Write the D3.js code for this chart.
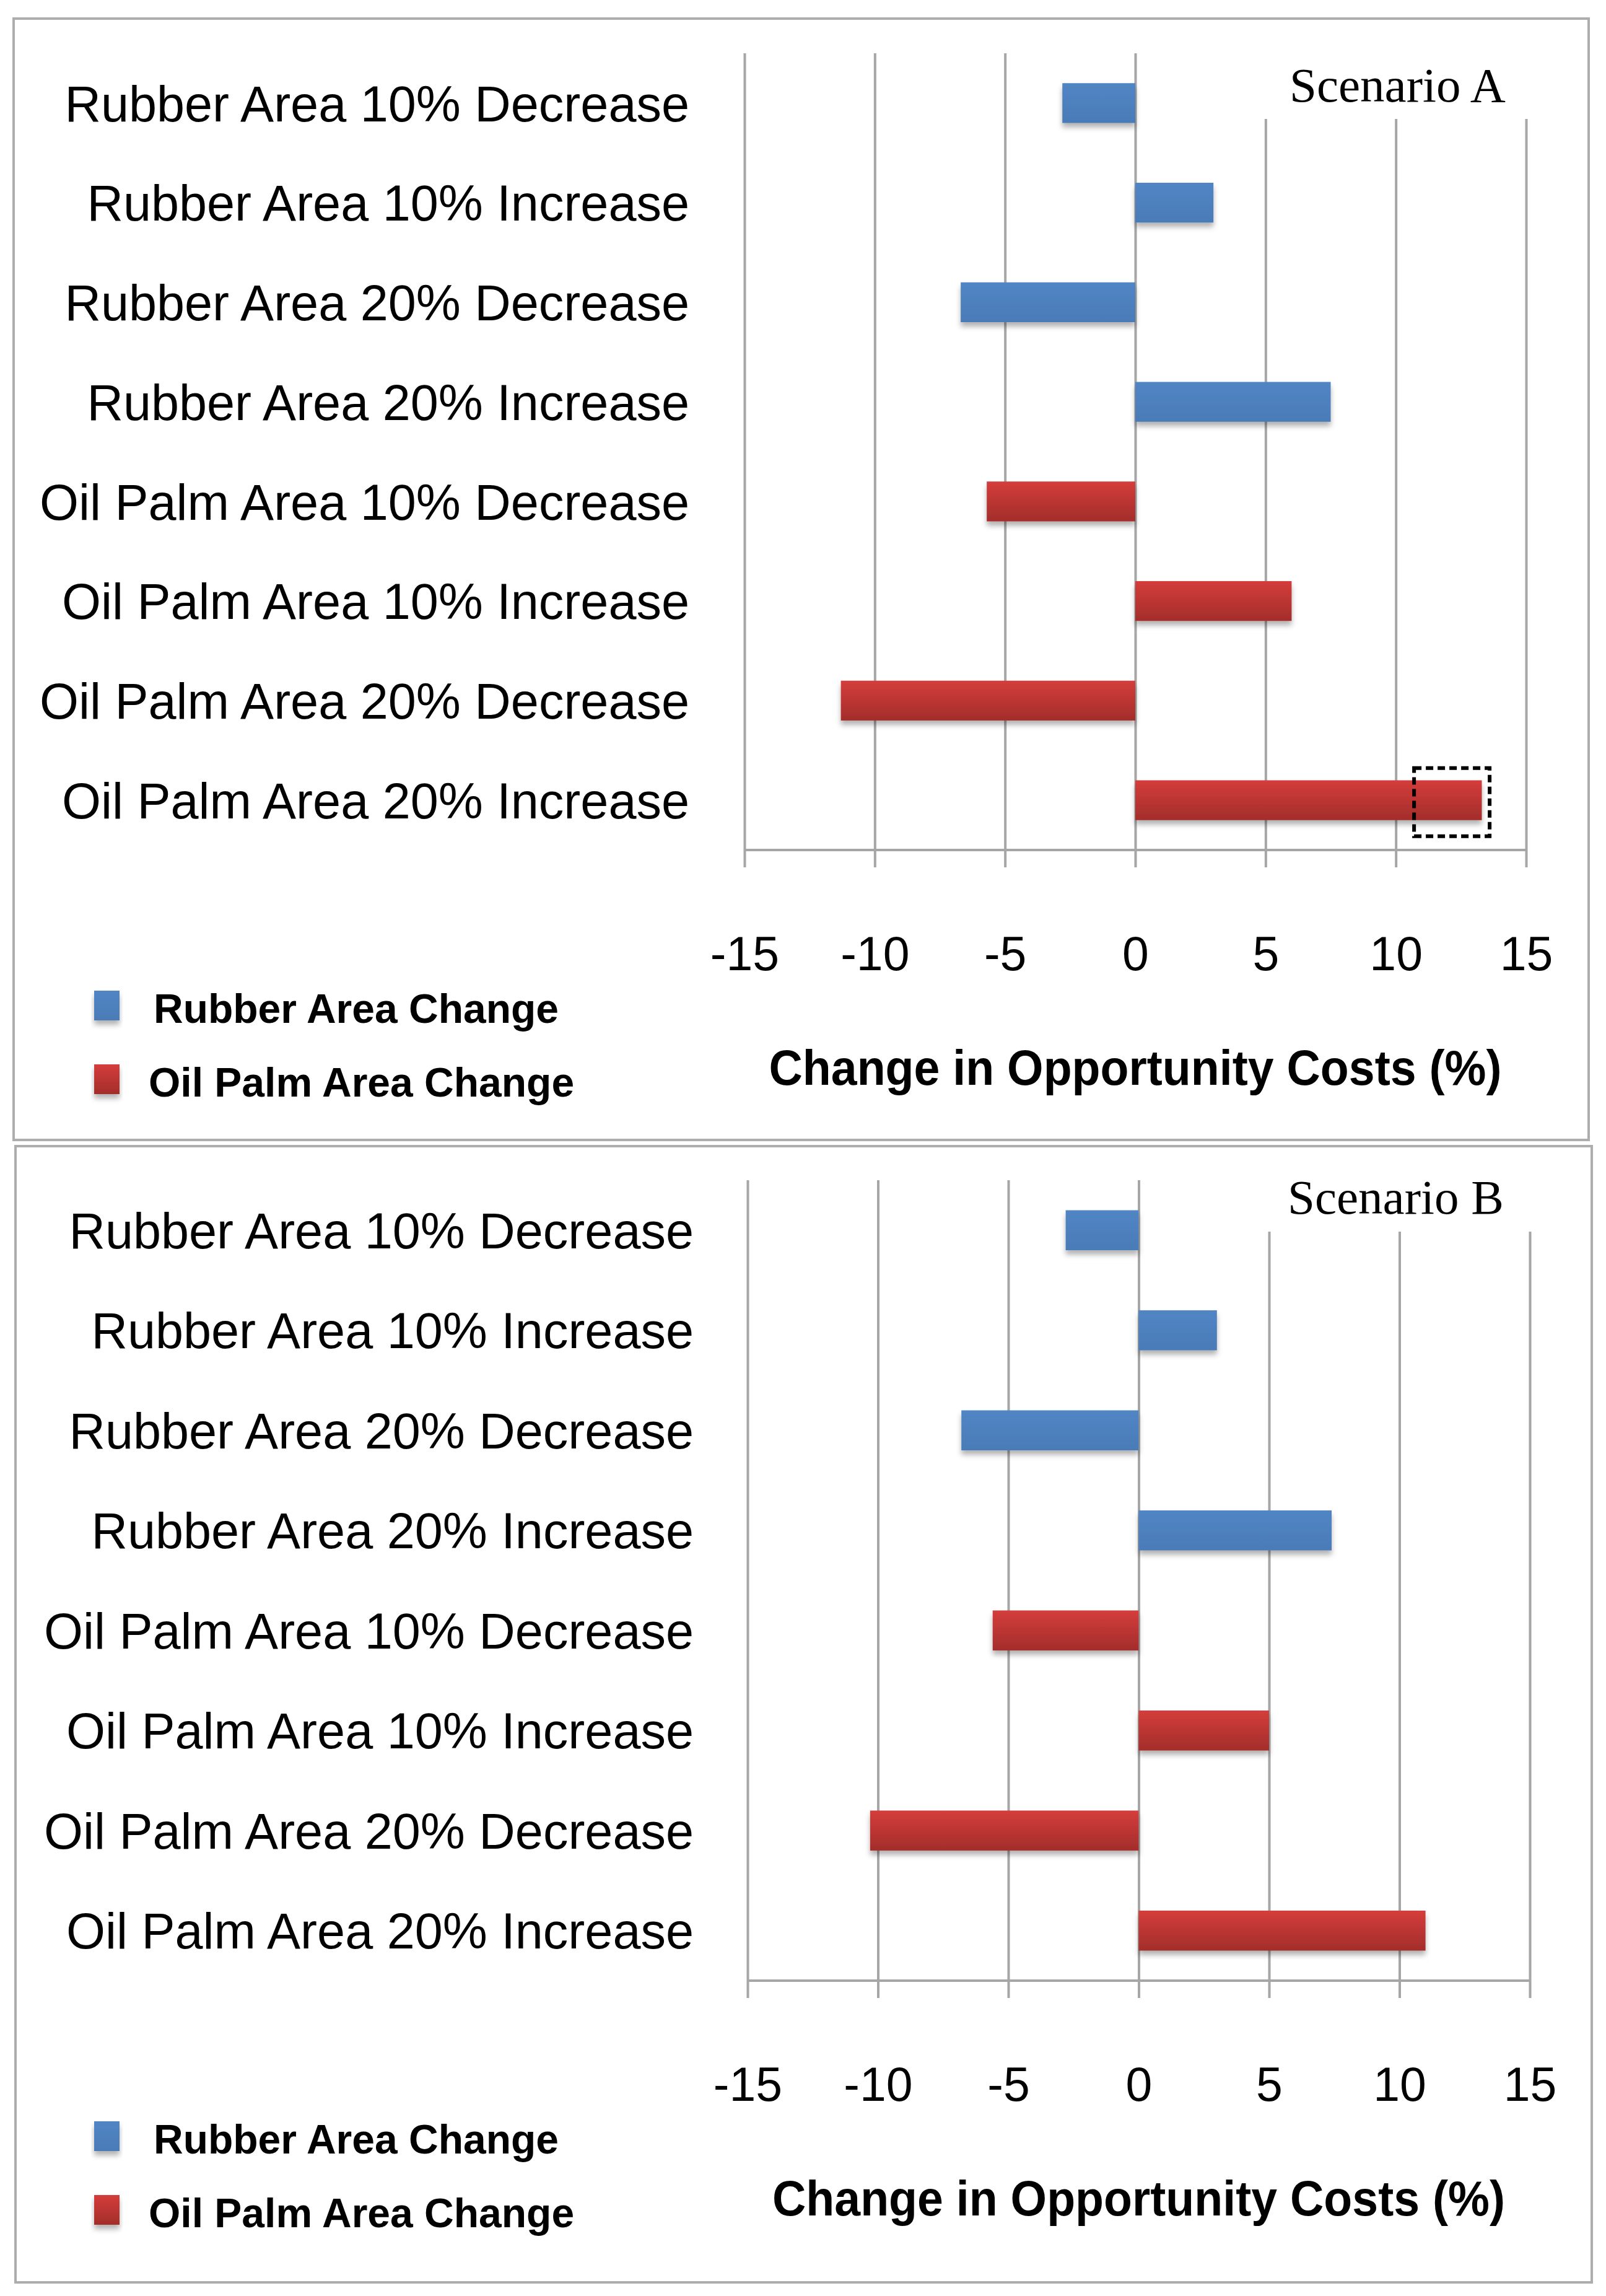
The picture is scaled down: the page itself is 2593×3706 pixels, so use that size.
<!DOCTYPE html>
<html>
<head>
<meta charset="utf-8">
<script src="https://cdn.jsdelivr.net/npm/d3@7"></script>
<style>
  body { margin: 0; background: #fff; }
  svg { display: block; }
</style>
</head>
<body>
<svg id="chart"></svg>
<script>
// categories (top to bottom)
const categories = [
  'Rubber Area 10% Decrease',
  'Rubber Area 10% Increase',
  'Rubber Area 20% Decrease',
  'Rubber Area 20% Increase',
  'Oil Palm Area 10% Decrease',
  'Oil Palm Area 10% Increase',
  'Oil Palm Area 20% Decrease',
  'Oil Palm Area 20% Increase'
];
// which series each bar belongs to
const seriesOf = ['rubber', 'rubber', 'rubber', 'rubber', 'oil', 'oil', 'oil', 'oil'];
const seriesNames = ['Rubber Area Change', 'Oil Palm Area Change'];

// change in opportunity costs (%)
const scenarioA = [-2.8, 3.0, -6.7, 7.5, -5.7, 6.0, -11.3, 13.3];
const scenarioB = [-2.8, 3.0, -6.8, 7.4, -5.6, 5.0, -10.3, 11.0];

const tickValues = [-15, -10, -5, 0, 5, 10, 15];
const axisTitle = 'Change in Opportunity Costs (%)';

const W = 2593, H = 3706;
const svg = d3.select('#chart').attr('width', W).attr('height', H);

const defs = svg.append('defs');
const shadow = defs.append('filter').attr('id', 'shadow')
  .attr('x', '-10%').attr('y', '-30%').attr('width', '120%').attr('height', '180%');
shadow.append('feDropShadow')
  .attr('dx', 0).attr('dy', 7).attr('stdDeviation', 4)
  .attr('flood-color', '#000').attr('flood-opacity', 0.3);

const redGrad = defs.append('linearGradient').attr('id', 'redGrad')
  .attr('x1', 0).attr('y1', 0).attr('x2', 0).attr('y2', 1);
redGrad.append('stop').attr('offset', '0%').attr('stop-color', '#d43d3b');
redGrad.append('stop').attr('offset', '100%').attr('stop-color', '#a32d2b');

const blueGrad = defs.append('linearGradient').attr('id', 'blueGrad')
  .attr('x1', 0).attr('y1', 0).attr('x2', 0).attr('y2', 1);
blueGrad.append('stop').attr('offset', '0%').attr('stop-color', '#5185c4');
blueGrad.append('stop').attr('offset', '100%').attr('stop-color', '#4a7bb7');

const fills = { rubber: 'url(#blueGrad)', oil: 'url(#redGrad)' };

const sans = '"Liberation Sans", Arial, sans-serif';
const serif = '"Liberation Serif", "Times New Roman", serif';

function drawPanel(p, values, title) {
  const g = svg.append('g');

  // panel frame
  g.append('rect')
    .attr('x', p.bx).attr('y', p.by).attr('width', p.bw).attr('height', p.bh)
    .attr('fill', '#fff').attr('stroke', '#adadad').attr('stroke-width', 4);

  const x = d3.scaleLinear().domain([-15, 15]).range([p.x0, p.x1]);
  const y = d3.scaleBand().domain(categories).range([p.top, p.bottom])
    .paddingInner(0.6).paddingOuter(0.3);

  // gridlines (also extend below the axis as ticks)
  const grid = g.append('g')
    .attr('transform', `translate(0, ${p.bottom + 28})`)
    .call(d3.axisTop(x).tickValues(tickValues).tickSize(p.bottom + 28 - p.top).tickFormat(''));
  grid.select('.domain').remove();
  grid.selectAll('line').attr('stroke', '#a6a6a6').attr('stroke-width', 4);

  // x axis line
  g.append('line')
    .attr('x1', x(-15)).attr('x2', x(15))
    .attr('y1', p.bottom).attr('y2', p.bottom)
    .attr('stroke', '#a6a6a6').attr('stroke-width', 4);

  // tick labels
  const labels = g.append('g')
    .attr('transform', `translate(0, ${p.bottom})`)
    .call(d3.axisBottom(x).tickValues(tickValues).tickSize(0).tickPadding(139).tickFormat(d => String(d)));
  labels.select('.domain').remove();
  labels.selectAll('text')
    .attr('font-family', sans).attr('font-size', 77).attr('fill', '#000');

  // white box behind the scenario label
  g.append('rect')
    .attr('x', x(2.8)).attr('y', p.top - 8)
    .attr('width', x(15) - x(2.8) + 30).attr('height', p.boxBottom - p.top + 8)
    .attr('fill', '#fff');
  g.append('text')
    .attr('x', p.titleX).attr('y', p.titleY)
    .attr('font-family', serif).attr('font-size', 79).attr('fill', '#000')
    .text(title);

  // bars
  g.selectAll('.bar')
    .data(values.map((v, i) => ({ v, cat: categories[i], s: seriesOf[i] })))
    .enter()
    .append('rect')
    .attr('class', 'bar')
    .attr('x', d => x(Math.min(0, d.v)))
    .attr('y', d => y(d.cat))
    .attr('width', d => Math.abs(x(d.v) - x(0)))
    .attr('height', y.bandwidth())
    .attr('fill', d => fills[d.s])
    .attr('filter', 'url(#shadow)');

  // category labels
  g.selectAll('.cat')
    .data(categories)
    .enter()
    .append('text')
    .attr('class', 'cat')
    .attr('x', p.labelX)
    .attr('y', d => y(d) + y.bandwidth() / 2)
    .attr('dy', '0.36em')
    .attr('text-anchor', 'end')
    .attr('font-family', sans).attr('font-size', 81).attr('fill', '#000')
    .text(d => d);

  // axis title
  g.append('text')
    .attr('x', (p.x0 + p.x1) / 2).attr('y', p.bottom + 379)
    .attr('text-anchor', 'middle')
    .attr('font-family', sans).attr('font-size', 79).attr('font-weight', 'bold')
    .attr('textLength', 1183).attr('lengthAdjust', 'spacingAndGlyphs')
    .text(axisTitle);

  // legend
  const leg = g.selectAll('.leg')
    .data(seriesNames)
    .enter()
    .append('g')
    .attr('class', 'leg')
    .attr('transform', (d, i) => `translate(0, ${p.bottom + 251 + i * 119})`);
  leg.append('rect')
    .attr('x', 152).attr('y', -24).attr('width', 41).attr('height', 48)
    .attr('fill', (d, i) => i === 0 ? fills.rubber : fills.oil)
    .attr('filter', 'url(#shadow)');
  leg.append('text')
    .attr('x', (d, i) => i === 0 ? 248 : 240).attr('y', 28)
    .attr('font-family', sans).attr('font-size', 66).attr('font-weight', 'bold')
    .attr('fill', '#000')
    .text(d => d);

  return { g, x, y };
}

// Scenario A
const a = drawPanel({
  bx: 22, by: 30, bw: 2543, bh: 1810,
  x0: 1202, x1: 2464, top: 86, bottom: 1372, boxBottom: 192,
  labelX: 1113, titleX: 2082, titleY: 164
}, scenarioA, 'Scenario A');

// dashed highlight on Oil Palm Area 20% Increase
const lastCat = categories[categories.length - 1];
const cy = a.y(lastCat) + a.y.bandwidth() / 2;
a.g.append('rect')
  .attr('x', a.x(10.7)).attr('y', cy - 52)
  .attr('width', a.x(13.6) - a.x(10.7)).attr('height', 110)
  .attr('fill', 'none').attr('stroke', '#000').attr('stroke-width', 6)
  .attr('stroke-dasharray', '12,7');

// Scenario B
drawPanel({
  bx: 25, by: 1850, bw: 2545, bh: 1834,
  x0: 1207, x1: 2470, top: 1905, bottom: 3197, boxBottom: 1988,
  labelX: 1120, titleX: 2079, titleY: 1959
}, scenarioB, 'Scenario B');
</script>
</body>
</html>
